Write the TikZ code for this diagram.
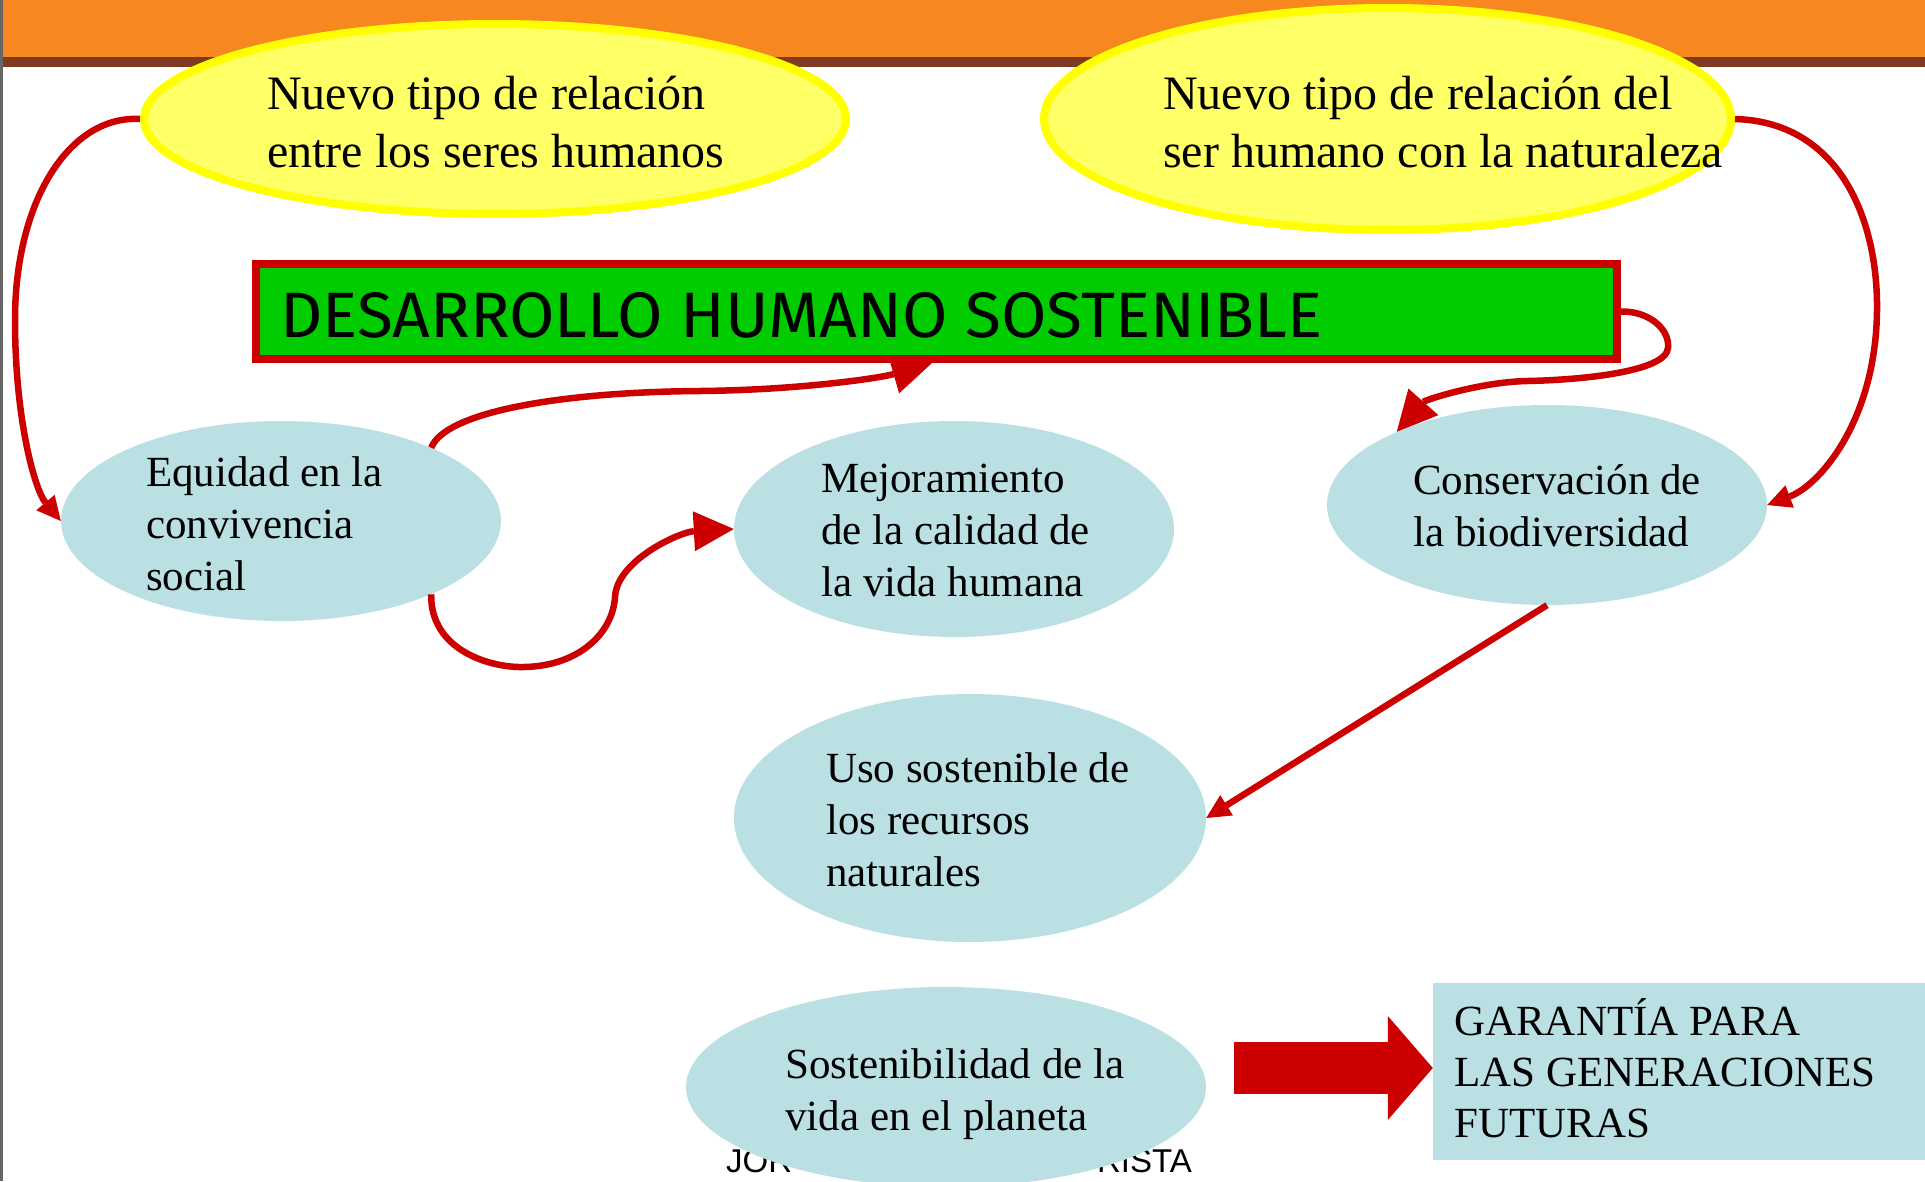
\documentclass[tikz,border=0pt]{standalone}
\usepackage{graphicx}
\usepackage{fontspec}
\setmainfont{Liberation Serif}
\newfontfamily\titlefont{Fira Sans}
\newfontfamily\footfont{Liberation Sans}
\usetikzlibrary{shapes.geometric,arrows.meta}
\definecolor{barorange}{HTML}{F78820}
\definecolor{barbrown}{HTML}{7F3A1F}
\definecolor{yfill}{HTML}{FFFF66}
\definecolor{yline}{HTML}{FFFF00}
\definecolor{boxgreen}{HTML}{00CC00}
\definecolor{linered}{HTML}{CC0000}
\definecolor{lblue}{HTML}{BAE0E4}
\begin{document}
\begin{tikzpicture}[x=1pt,y=-1pt,
  yell/.style={ellipse, draw=yline, fill=yfill, line width=8pt, inner sep=0pt},
  blueell/.style={ellipse, fill=lblue, inner sep=0pt},
  conn/.style={draw=linered, line width=6.5pt, -{Triangle[length=24pt,width=24pt,line width=0pt]}},
  bigconn/.style={draw=linered, line width=6.5pt, -{Triangle[length=40pt,width=40pt,line width=0pt]}},
  ytext/.style={anchor=base west, align=left, inner sep=0pt, font=\fontsize{48}{58}\selectfont},
  btext/.style={anchor=base west, align=left, inner sep=0pt, font=\fontsize{43}{52}\selectfont},
  foottext/.style={inner sep=0pt, font=\footfont\fontsize{33}{40}\selectfont}]
\useasboundingbox (0,0) rectangle (1925,1181);
\clip (0,0) rectangle (1925,1181);
% top bar
\fill[barorange] (0,0) rectangle (1925,57);
\fill[barbrown] (0,57) rectangle (1925,67);
% yellow ellipses
\node[yell, minimum width=702pt, minimum height=190pt] (y1) at (495,119) {};
\node[yell, minimum width=687pt, minimum height=222pt] (y2) at (1387.5,119) {};
% (multi-line nodes: base anchor = baseline of last line)
\node[ytext] (y1t) at (267,167) {Nuevo tipo de relación\\entre los seres humanos};
\node[ytext] (y2t) at (1163,167) {Nuevo tipo de relación del\\ser humano con la naturaleza};
% title box
\node[draw=linered, fill=boxgreen, line width=8pt, minimum width=1361pt, minimum height=95pt, inner sep=0pt] (box) at (936.5,311.5) {};
\node[anchor=base west, inner sep=0pt] (title) at (280,337) {\resizebox{1042pt}{45pt}{\titlefont DESARROLLO HUMANO SOSTENIBLE}};
% footer text (partly hidden)
\node[foottext, anchor=base west] (foot1) at (726,1172) {JOR};
\node[foottext, anchor=base east] (foot2) at (1192,1172) {RISTA};
% blue ellipses
\node[blueell, minimum width=440pt, minimum height=200pt] (eq) at (281,521) {};
\node[blueell, minimum width=440pt, minimum height=216pt] (mej) at (954,529) {};
\node[blueell, minimum width=440pt, minimum height=200pt] (cons) at (1547,505) {};
\node[blueell, minimum width=472pt, minimum height=248pt] (uso) at (970,818) {};
\node[blueell, minimum width=520pt, minimum height=200pt] (sost) at (946,1087) {};
\node[fill=lblue, inner sep=0pt, minimum width=500pt, minimum height=177pt] (gar) at (1683,1071.5) {};
% texts
\node[btext] (eqt) at (146,590) {Equidad en la\\convivencia\\social};
\node[btext] (mejt) at (821,596) {Mejoramiento\\de la calidad de\\la vida humana};
\node[btext] (const) at (1413,546) {Conservación de\\la biodiversidad};
\node[btext] (usot) at (826,886) {Uso sostenible de\\los recursos\\naturales};
\node[btext] (sostt) at (785,1130) {Sostenibilidad de la\\vida en el planeta};
\node[btext, font=\fontsize{43}{51}\selectfont] (gart) at (1454,1137) {GARANTÍA PARA\\LAS GENERACIONES\\FUTURAS};
% connectors
\coordinate (c1a) at (15,320);
\draw[conn] (y1.west) .. controls (70,115) and (15,200) .. (c1a) .. controls (15,420) and (35,490) .. (eq.west);
\coordinate (c2a) at (1877,310);
\draw[conn] (y2.east) .. controls (1840,122) and (1878,220) .. (c2a) .. controls (1876,420) and (1820,485) .. (cons.east);
\coordinate (c3a) at (1668,348);
\coordinate (c3b) at (1527,381);
\draw[bigconn] (box.east) .. controls (1650,311) and (1670,330) .. (c3a) .. controls (1666,372) and (1580,380) .. (c3b) .. controls (1480,382) and (1425,400) .. (cons.154);
\coordinate (c4a) at (700,391);
\coordinate (t4) at (932,363);
\draw[bigconn] (eq.26) .. controls (445,412) and (560,392) .. (c4a) .. controls (800,390) and (880,378) .. (t4);
\coordinate (c5a) at (524,667);
\coordinate (c5b) at (615,597);
\draw[bigconn] (eq.-26) .. controls (430,650) and (490,668) .. (c5a) .. controls (580,666) and (613,632) .. (c5b) .. controls (617,560) and (680,532) .. (mej.west);
\draw[conn] (cons.south) -- (uso.east);
% block arrow
\coordinate (ba) at (1234,1068);
\draw[linered, line width=52pt, -{Triangle[length=45pt,width=104pt,line width=0pt]}] (ba) -- (ba -| gar.west);
% left edge line
\fill[black!60] (0,0) rectangle (2.5,1181);
\end{tikzpicture}
\end{document}
